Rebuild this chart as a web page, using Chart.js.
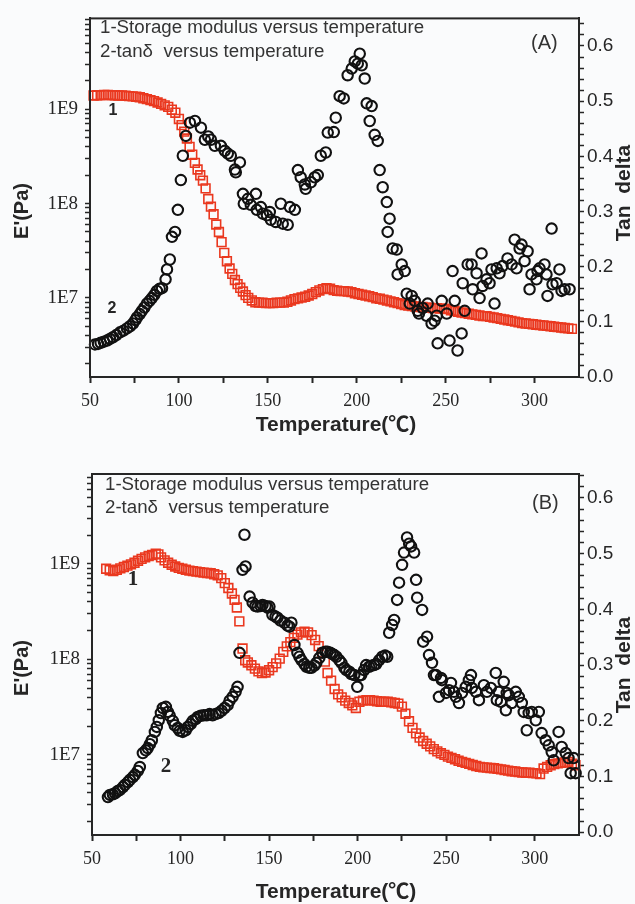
<!DOCTYPE html>
<html>
<head>
<meta charset="utf-8">
<script src="https://cdn.jsdelivr.net/npm/chart.js@4.4.1/dist/chart.umd.min.js"></script>
<style>
  html, body { margin: 0; padding: 0; background: #fafbfc; }
  #wrap { position: relative; width: 635px; height: 904px; }
  canvas { position: absolute; left: 0; }
</style>
</head>
<body>
<div id="wrap">
  <canvas id="chartA" width="635" height="452" style="top:0;width:635px;height:452px"></canvas>
  <canvas id="chartB" width="635" height="452" style="top:452px;width:635px;height:452px"></canvas>
</div>
<script>
// ---- panel A : storage modulus (curve 1, red squares) ----
var tempModA = [52,54,56,58,60,62,64,66,68,70,
  72,74,76,78,80,82,84,86,88,90,
  92,94,96,98,100,101.5,103,104.5,106,107.5,
  109,110.5,112,113.5,115,116.5,118,119.5,121,122.5,
  124,125.5,127,128.5,130,131.5,133,134.5,136,137.5,
  139,141,143,145,147,149,151,153,155,157,
  159,161,163,165,167,169,171,173,175,177,
  179,181,183,185,187,189,191,193,195,197,
  199,201,203,205,207,209,211,213,215,217,
  219,221,223,225,227,229,231,233,235,237,
  239,241,243,245,247,249,251,253,255,257,
  259,261,263,265,267,269,271,273,275,277,
  279,281,283,285,287,289,291,293,295,297,
  299,301,303,305,307,309,311,313,315,317,
  319,321];
var modA = [1.40e9,1.41e9,1.41e9,1.42e9,1.42e9,1.41e9,1.41e9,1.40e9,1.40e9,1.39e9,
  1.38e9,1.37e9,1.36e9,1.34e9,1.31e9,1.28e9,1.25e9,1.22e9,1.18e9,1.14e9,
  1.10e9,1.06e9,9.9e8,9.2e8,7.9e8,6.8e8,5.8e8,4.9e8,4.0e8,3.3e8,
  2.7e8,2.3e8,2.0e8,1.75e8,1.45e8,1.12e8,9.3e7,7.7e7,6.0e7,5.0e7,
  3.9e7,3.0e7,2.45e7,2.05e7,1.8e7,1.55e7,1.4e7,1.28e7,1.17e7,1.07e7,
  1.0e7,9.4e6,9.0e6,8.9e6,8.9e6,8.8e6,8.8e6,8.8e6,8.9e6,8.9e6,
  8.9e6,9.1e6,9.4e6,9.7e6,9.9e6,1.01e7,1.03e7,1.06e7,1.1e7,1.15e7,
  1.2e7,1.24e7,1.27e7,1.25e7,1.21e7,1.19e7,1.18e7,1.18e7,1.17e7,1.15e7,
  1.12e7,1.1e7,1.08e7,1.06e7,1.04e7,1.02e7,9.9e6,9.8e6,9.6e6,9.4e6,
  9.2e6,9.0e6,8.8e6,8.6e6,8.4e6,8.3e6,8.2e6,8.1e6,8.0e6,8.0e6,
  7.9e6,7.9e6,7.8e6,7.8e6,7.7e6,7.7e6,7.6e6,7.4e6,7.3e6,7.1e6,
  7.0e6,6.9e6,6.8e6,6.7e6,6.6e6,6.5e6,6.4e6,6.4e6,6.3e6,6.2e6,
  6.1e6,6.0e6,5.9e6,5.8e6,5.7e6,5.6e6,5.5e6,5.4e6,5.35e6,5.3e6,
  5.25e6,5.2e6,5.15e6,5.1e6,5.05e6,5.0e6,4.95e6,4.9e6,4.85e6,4.8e6,
  4.75e6,4.7e6];

// ---- panel A : tan delta (curve 2, black circles) ----
var tempTanA = [52.8,54.5,56.0,57.8,59.6,61.2,62.9,64.8,66.9,68.8,
  70.8,72.5,74.2,75.5,76.4,78.0,79.2,80.6,82.0,83.5,
  84.8,86.2,87.6,89.2,90.5,92.5,93.3,94.9,96.1,97.8,
  99.4,101.1,102.2,103.9,106.2,109.0,112.4,114.6,116.5,118.0,
  120.2,123.6,125.8,127.5,129.2,131.5,132.0,134.3,136.0,136.5,
  138.8,140.4,143.3,143.8,146.1,147.2,149.5,151.1,151.7,154.5,
  157.3,158.4,161.2,162.4,165.2,166.9,168.5,170.8,171.3,174.2,
  176.4,178.1,179.8,182.6,183.7,187.1,188.2,190.4,192.7,194.9,
  197.2,198.9,200.6,201.7,202.8,204.5,205.6,207.3,208.4,210.1,
  211.8,212.9,214.6,216.9,217.4,218.5,220.2,222.5,223.0,225.3,
  227.0,228.1,229.8,230.9,232.6,234.3,235.0,237.1,239.3,239.9,
  242.1,243.8,245.0,245.5,247.8,250.6,252.2,253.9,255.1,256.7,
  259.0,259.6,260.7,262.4,264.6,265.2,267.4,269.1,270.2,270.8,
  273.0,274.7,275.8,277.5,278.7,280.3,282.0,284.8,287.1,288.8,
  289.9,291.6,292.7,294.4,296.1,297.2,298.3,301.1,301.7,302.8,
  305.6,306.7,307.3,309.6,310.1,312.4,314.0,315.2,316.9,319.7];
var tanA = [0.059,0.060,0.062,0.064,0.066,0.069,0.072,0.076,0.081,0.084,
  0.088,0.092,0.097,0.103,0.108,0.114,0.120,0.126,0.133,0.138,
  0.143,0.149,0.156,0.160,0.161,0.177,0.195,0.213,0.254,0.263,
  0.303,0.357,0.401,0.437,0.461,0.464,0.452,0.430,0.436,0.430,
  0.419,0.419,0.410,0.405,0.401,0.376,0.371,0.389,0.332,0.314,
  0.323,0.312,0.332,0.303,0.308,0.296,0.293,0.299,0.285,0.281,
  0.314,0.278,0.276,0.308,0.303,0.375,0.362,0.349,0.341,0.353,
  0.362,0.366,0.401,0.407,0.443,0.444,0.470,0.509,0.505,0.547,
  0.559,0.572,0.568,0.586,0.565,0.541,0.496,0.464,0.491,0.439,
  0.428,0.375,0.344,0.317,0.263,0.287,0.233,0.231,0.186,0.204,
  0.192,0.151,0.133,0.147,0.138,0.120,0.115,0.125,0.111,0.133,
  0.097,0.102,0.111,0.061,0.138,0.115,0.066,0.192,0.138,0.048,
  0.079,0.170,0.120,0.204,0.204,0.159,0.188,0.143,0.224,0.165,
  0.177,0.170,0.195,0.133,0.197,0.188,0.201,0.215,0.204,0.249,
  0.197,0.233,0.240,0.210,0.228,0.159,0.186,0.177,0.192,0.197,
  0.204,0.186,0.147,0.269,0.168,0.170,0.195,0.156,0.159,0.159];

// ---- panel B : storage modulus ----
var tempModB = [58,60,62,64,66,68,70,72,74,76,
  78,80,82,84,86,87.5,89,91,93,95,
  97,99,101,103,105,107,109,111,113,115,
  117,119,121,123,125,127,129,130.5,131.8,133.2,
  135,136.5,138,140,142,144,146,148,150,152,
  154,156,158,160,162,164,166,168,170,172,
  174,176,178,180,181.5,183,185,187,189,191,
  193,195,197,199,201,203,205,207,209,211,
  213,215,217,219,221,223,225,227,229,231,
  233,235,237,239,241,243,245,247,249,251,
  253,255,257,259,261,263,265,267,269,271,
  273,275,277,279,281,283,285,287,289,291,
  293,295,297,299,301,303,305,307,309,311,
  313,315,317,319,321,323];
var modB = [8.9e8,8.6e8,8.4e8,8.7e8,9.0e8,9.3e8,9.6e8,9.9e8,1.03e9,1.08e9,
  1.13e9,1.17e9,1.21e9,1.24e9,1.28e9,1.26e9,1.17e9,1.09e9,1.03e9,9.8e8,
  9.4e8,9.1e8,8.9e8,8.7e8,8.5e8,8.4e8,8.3e8,8.2e8,8.1e8,8.05e8,
  8.0e8,7.8e8,7.6e8,7.1e8,6.3e8,5.6e8,4.9e8,4.2e8,3.5e8,2.5e8,
  1.3e8,9.8e7,9.3e7,8.7e7,8.0e7,7.5e7,7.2e7,7.3e7,7.7e7,8.3e7,
  9.1e7,1.02e8,1.2e8,1.37e8,1.52e8,1.68e8,1.82e8,1.92e8,1.95e8,1.92e8,
  1.8e8,1.6e8,1.38e8,1.18e8,9.5e7,7.2e7,6.0e7,4.9e7,4.3e7,4.0e7,
  3.7e7,3.5e7,3.3e7,3.1e7,3.6e7,3.7e7,3.75e7,3.75e7,3.7e7,3.65e7,
  3.6e7,3.6e7,3.6e7,3.55e7,3.5e7,3.45e7,3.2e7,2.7e7,2.25e7,1.92e7,
  1.68e7,1.52e7,1.4e7,1.31e7,1.23e7,1.15e7,1.09e7,1.04e7,1.0e7,9.6e6,
  9.3e6,9.0e6,8.7e6,8.45e6,8.25e6,8.05e6,7.85e6,7.65e6,7.5e6,7.4e6,
  7.35e6,7.3e6,7.25e6,7.15e6,7.05e6,6.95e6,6.85e6,6.75e6,6.7e6,6.6e6,
  6.55e6,6.5e6,6.5e6,6.45e6,6.4e6,6.3e6,7.2e6,7.5e6,7.8e6,8.0e6,
  8.15e6,8.25e6,8.35e6,8.45e6,8.1e6,7.8e6];

// ---- panel B : tan delta ----
var tempTanB = [59.0,60.1,61.8,63.0,64.6,65.8,67.5,68.6,70.3,71.4,
  73.1,74.2,75.9,77.0,78.7,80.4,81.5,82.7,83.8,85.5,
  86.6,87.7,88.9,90.0,91.7,92.8,93.9,95.6,96.7,98.4,
  99.5,101.2,102.9,104.1,105.7,106.9,108.6,109.7,111.4,113.1,
  114.8,116.4,118.1,119.8,121.5,123.2,124.9,126.6,127.7,129.4,
  131.1,132.2,133.3,135.0,136.7,136.1,139.0,140.7,142.3,143.5,
  145.2,146.3,148.0,149.1,150.2,151.9,153.6,154.7,156.4,158.7,
  160.4,161.5,162.6,164.3,166.0,167.1,168.2,169.9,171.1,172.7,
  173.9,175.6,176.7,178.4,180.1,181.8,182.9,184.6,185.7,186.8,
  188.0,189.6,190.8,192.5,193.6,195.3,196.4,198.1,199.8,200.9,
  202.0,203.7,204.8,206.5,207.7,209.3,210.5,212.2,213.9,215.5,
  216.7,217.8,219.5,220.6,222.3,223.4,225.1,226.2,227.9,229.1,
  230.2,231.9,233.0,233.6,236.4,237.0,239.2,240.3,242.0,243.1,
  244.3,245.9,247.1,247.6,249.9,251.6,252.7,254.4,255.5,257.2,
  258.9,261.1,262.8,264.0,264.5,266.8,268.5,271.3,273.0,275.2,
  278.0,278.6,279.7,280.9,282.5,283.7,284.2,285.4,287.0,289.3,
  291.0,292.7,293.8,295.5,296.6,298.3,300.6,302.3,303.9,306.2,
  307.9,309.6,310.7,313.5,315.2,317.5,319.1,320.3,322.0,323.1];
var tanB = [0.063,0.067,0.068,0.070,0.074,0.076,0.081,0.085,0.090,0.094,
  0.099,0.103,0.110,0.117,0.142,0.147,0.151,0.158,0.165,0.180,
  0.189,0.201,0.214,0.223,0.225,0.216,0.209,0.200,0.192,0.187,
  0.182,0.180,0.183,0.189,0.194,0.200,0.203,0.207,0.209,0.210,
  0.210,0.212,0.210,0.212,0.214,0.218,0.223,0.228,0.236,0.243,
  0.252,0.261,0.322,0.471,0.477,0.534,0.423,0.412,0.406,0.405,
  0.406,0.408,0.406,0.403,0.405,0.390,0.387,0.385,0.380,0.376,
  0.371,0.369,0.376,0.336,0.322,0.315,0.309,0.302,0.297,0.295,
  0.295,0.299,0.304,0.313,0.322,0.324,0.324,0.322,0.320,0.318,
  0.315,0.309,0.304,0.295,0.291,0.288,0.284,0.282,0.261,0.281,
  0.282,0.291,0.300,0.297,0.299,0.300,0.302,0.309,0.315,0.317,
  0.315,0.358,0.372,0.381,0.417,0.448,0.480,0.502,0.529,0.518,
  0.513,0.502,0.453,0.421,0.399,0.342,0.351,0.318,0.304,0.282,
  0.282,0.243,0.277,0.273,0.250,0.255,0.268,0.252,0.243,0.232,
  0.250,0.261,0.273,0.282,0.259,0.252,0.237,0.264,0.252,0.259,
  0.286,0.237,0.252,0.234,0.270,0.219,0.250,0.246,0.232,0.252,
  0.243,0.232,0.216,0.183,0.214,0.216,0.201,0.216,0.178,0.165,
  0.156,0.144,0.129,0.180,0.153,0.142,0.133,0.106,0.133,0.106];

// ---- ticks ----
var tempTicks = [50,75,100,125,150,175,200,225,250,275,300];
var tempLabels = [50,100,150,200,250,300];
var modDecades = [1e6,1e7,1e8,1e9];
var modLabelled = [1e7,1e8,1e9];
var tanTicks = [0,0.02,0.04,0.06,0.08,0.1,0.12,0.14,0.16,0.18,0.2,0.22,0.24,0.26,0.28,0.3,
  0.32,0.34,0.36,0.38,0.4,0.42,0.44,0.46,0.48,0.5,0.52,0.54,0.56,0.58,0.6,0.62,0.64];
var tanLabels = [0,0.1,0.2,0.3,0.4,0.5,0.6];

var serif = '"Liberation Serif", "Times New Roman", serif';
var sans = '"Liberation Sans", Arial, "Noto Sans CJK SC", sans-serif';
var ink = '#262626';

function pairs(xs, ys) {
    return xs.map(function (x, i) { return {x: x, y: ys[i]}; });
}

// all minor+major ticks of the log axis: 1..9 x each decade
var modTicks = [];
modDecades.forEach(function (d) {
    for (var m = 1; m <= 9; m++) modTicks.push(m * d);
});
modTicks.push(1e10);

var decor = {
    id: 'decor',
    afterDraw: function (chart, args, opts) {
        var ctx = chart.ctx, a = chart.chartArea;
        ctx.save();
        ctx.strokeStyle = ink;
        ctx.lineWidth = 2;
        ctx.strokeRect(a.left, a.top, a.right - a.left, a.bottom - a.top);
        opts.texts.forEach(function (t) {
            ctx.save();
            ctx.font = t.font;
            ctx.fillStyle = t.color || ink;
            ctx.textAlign = t.align || 'left';
            ctx.textBaseline = 'middle';
            ctx.translate(t.x, t.y);
            if (t.rot) ctx.rotate(t.rot);
            ctx.fillText(t.text, 0, 0);
            ctx.restore();
        });
        ctx.restore();
    }
};

function near(v, list) {
    for (var i = 0; i < list.length; i++) {
        if (Math.abs(v - list[i]) < 1e-6 * Math.max(1, Math.abs(list[i]))) return true;
    }
    return false;
}

function makePanel(id, p) {
    return new Chart(document.getElementById(id), {
        type: 'scatter',
        plugins: [decor],
        data: {
            datasets: [{
                label: 'tan delta',
                data: pairs(p.tanT, p.tan),
                yAxisID: 'y2',
                pointStyle: 'circle',
                pointRadius: 5.2,
                pointBorderWidth: 2.1,
                pointBorderColor: '#111',
                pointBackgroundColor: 'rgba(0,0,0,0)',
                order: 0,
                clip: 8
            }, {
                label: "E'",
                data: pairs(p.modT, p.mod),
                yAxisID: 'y',
                pointStyle: 'rect',
                pointRadius: 6.2,
                pointBorderWidth: 1.6,
                pointBorderColor: '#ea381f',
                pointBackgroundColor: 'rgba(0,0,0,0)',
                order: 1,
                clip: 8
            }]
        },
        options: {
            responsive: false,
            animation: false,
            events: [],
            layout: {padding: {top: p.top, left: 0, right: 0, bottom: 0}},
            plugins: {
                legend: {display: false},
                tooltip: {enabled: false},
                decor: {texts: p.texts}
            },
            scales: {
                x: {
                    type: 'linear',
                    min: 50,
                    max: 325,
                    afterFit: function (s) { s.height = p.xHeight; },
                    afterBuildTicks: function (s) {
                        s.ticks = tempTicks.map(function (v) { return {value: v}; });
                    },
                    ticks: {
                        autoSkip: false,
                        maxRotation: 0,
                        padding: 7,
                        color: ink,
                        font: {family: serif, size: 18},
                        callback: function (v) { return tempLabels.indexOf(v) >= 0 ? String(v) : ''; }
                    },
                    grid: {drawOnChartArea: false, drawTicks: true, tickLength: 6, tickWidth: 2, tickColor: ink},
                    border: {display: true, color: ink, width: 2}
                },
                y: {
                    type: 'logarithmic',
                    position: 'left',
                    min: p.modMin,
                    max: p.modMax,
                    afterFit: function (s) { s.width = p.left; },
                    afterBuildTicks: function (s) {
                        s.ticks = modTicks.filter(function (v) {
                            return v >= p.modMin && v <= p.modMax;
                        }).map(function (v) { return {value: v}; });
                    },
                    ticks: {
                        autoSkip: false,
                        padding: 7,
                        color: ink,
                        font: {family: serif, size: 19},
                        callback: function (v) {
                            if (!near(v, modLabelled)) return '';
                            return '1E' + Math.round(Math.log10(v));
                        }
                    },
                    grid: {drawOnChartArea: false, drawTicks: true, tickLength: 5, tickWidth: 1.5, tickColor: ink},
                    border: {display: true, color: ink, width: 2}
                },
                y2: {
                    type: 'linear',
                    position: 'right',
                    min: p.tanMin,
                    max: p.tanMax,
                    afterFit: function (s) { s.width = 635 - p.right; },
                    afterBuildTicks: function (s) {
                        s.ticks = tanTicks.map(function (v) { return {value: v}; });
                    },
                    ticks: {
                        autoSkip: false,
                        padding: 3,
                        color: ink,
                        font: {family: sans, size: 19},
                        callback: function (v) { return near(v, tanLabels) ? v.toFixed(1) : ''; }
                    },
                    grid: {drawOnChartArea: false, drawTicks: true, tickLength: 5, tickWidth: 1.5, tickColor: ink},
                    border: {display: true, color: ink, width: 2}
                }
            }
        }
    });
}

var note = '18.7px ' + sans;
var titleFont = 'bold 21px ' + sans;

makePanel('chartA', {
    modT: tempModA, mod: modA, tanT: tempTanA, tan: tanA,
    top: 14, left: 90, right: 579, xHeight: 75,
    modMin: 1.45e6, modMax: 9.2e9, tanMin: 0, tanMax: 0.65,
    texts: [
        {text: '1-Storage modulus versus temperature', x: 100, y: 28, font: note, color: '#333'},
        {text: '2-tan\u03b4  versus temperature', x: 100, y: 52, font: note, color: '#333'},
        {text: '(A)', x: 531, y: 43, font: '20px ' + sans, color: '#333'},
        {text: '1', x: 113, y: 111, font: 'bold 16px ' + sans, align: 'center'},
        {text: '2', x: 112, y: 309, font: 'bold 16px ' + sans, align: 'center'},
        {text: "E'(Pa)", x: 22, y: 211, rot: -Math.PI / 2, font: 'bold 20px ' + sans, align: 'center'},
        {text: 'Tan  delta', x: 624, y: 193, rot: -Math.PI / 2, font: titleFont, align: 'center'},
        {text: 'Temperature(\u2103)', x: 336, y: 425, font: titleFont, align: 'center'}
    ]
});

makePanel('chartB', {
    modT: tempModB, mod: modB, tanT: tempTanB, tan: tanB,
    top: 22, left: 92, right: 579, xHeight: 69,
    modMin: 1.45e6, modMax: 8.75e9, tanMin: -0.005, tanMax: 0.643,
    texts: [
        {text: '1-Storage modulus versus temperature', x: 105, y: 33, font: note, color: '#333'},
        {text: '2-tan\u03b4  versus temperature', x: 105, y: 56, font: note, color: '#333'},
        {text: '(B)', x: 532, y: 51, font: '20px ' + sans, color: '#333'},
        {text: '1', x: 133, y: 128, font: 'bold 21px ' + serif, align: 'center'},
        {text: '2', x: 166, y: 315, font: 'bold 21px ' + serif, align: 'center'},
        {text: "E'(Pa)", x: 22, y: 216, rot: -Math.PI / 2, font: 'bold 20px ' + sans, align: 'center'},
        {text: 'Tan  delta', x: 624, y: 213, rot: -Math.PI / 2, font: titleFont, align: 'center'},
        {text: 'Temperature(\u2103)', x: 336, y: 440, font: titleFont, align: 'center'}
    ]
});
</script>
</body>
</html>
